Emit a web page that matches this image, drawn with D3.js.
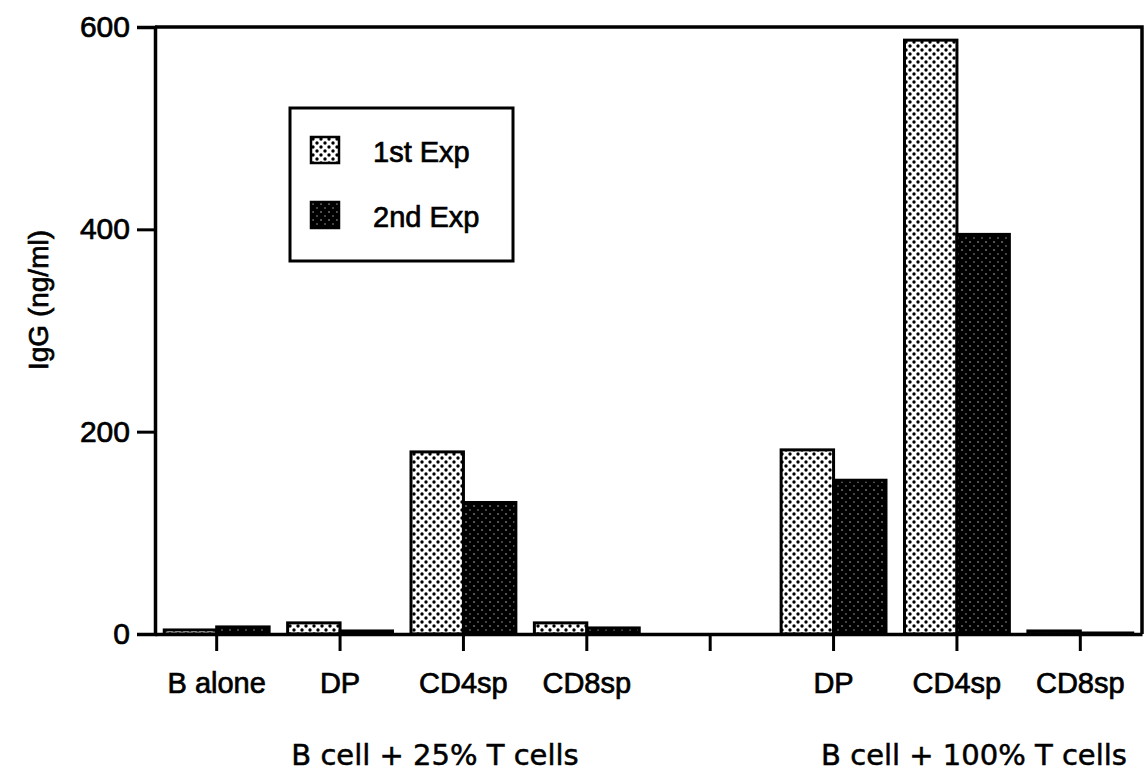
<!DOCTYPE html>
<html>
<head>
<meta charset="utf-8">
<script src="https://cdn.jsdelivr.net/npm/d3@7"></script>
<style>
  html, body { margin: 0; padding: 0; background: #fff; }
  svg { display: block; }
  text { fill: #000; }
  .lbl { font-family: "Liberation Sans", Arial, sans-serif; stroke: #000; stroke-width: 0.7px; }
  .cap { font-family: "DejaVu Sans", sans-serif; stroke: #000; stroke-width: 0.5px; }
</style>
</head>
<body>
<svg id="chart" width="1148" height="776"></svg>
<script>
// IgG production by B cells co-cultured with thymocyte subsets
const slots = [0, 1, 2, 3, 4, 5, 6, 7];
const categoryLabels = ["B alone", "DP", "CD4sp", "CD8sp", "", "DP", "CD4sp", "CD8sp"];
const exp1 = [4, 11, 180, 11, null, 182, 587, 3];
const exp2 = [7, 3, 130, 6, null, 152, 395, 1];
const seriesNames = ["1st Exp", "2nd Exp"];
const yTicks = [0, 200, 400, 600];
const groupLabels = ["B cell + 25% T cells", "B cell + 100% T cells"];

const svg = d3.select("#chart");
const plotLeft = 155, plotRight = 1142, plotTop = 27, plotBottom = 634;

const x = d3.scaleBand().domain(slots).range([plotLeft, plotRight]).paddingInner(0.15).paddingOuter(0.075);
const xSub = d3.scaleBand().domain([0, 1]).range([0, x.bandwidth()]);
const y = d3.scaleLinear().domain([0, 600]).range([plotBottom, plotTop]);

// fill patterns: light stipple and dark stipple
const defs = svg.append("defs");
const p1 = defs.append("pattern").attr("id", "stippleLight")
  .attr("patternUnits", "userSpaceOnUse").attr("width", 8).attr("height", 8);
p1.append("rect").attr("width", 8).attr("height", 8).attr("fill", "#fff");
p1.append("circle").attr("cx", 2).attr("cy", 2).attr("r", 1.7).attr("fill", "#000");
p1.append("circle").attr("cx", 6).attr("cy", 6).attr("r", 1.7).attr("fill", "#000");

const p2 = defs.append("pattern").attr("id", "stippleDark")
  .attr("patternUnits", "userSpaceOnUse").attr("width", 8).attr("height", 8);
p2.append("rect").attr("width", 8).attr("height", 8).attr("fill", "#000");
p2.append("circle").attr("cx", 2).attr("cy", 2).attr("r", 0.8).attr("fill", "#bbb");
p2.append("circle").attr("cx", 6).attr("cy", 6).attr("r", 0.8).attr("fill", "#999");

const fills = ["url(#stippleLight)", "url(#stippleDark)"];
const series = [exp1, exp2];

// bars
series.forEach((vals, s) => {
  svg.append("g").selectAll("rect")
    .data(slots.filter(i => vals[i] !== null))
    .join("rect")
    .attr("x", i => x(i) + xSub(s))
    .attr("y", i => y(vals[i]))
    .attr("width", xSub.bandwidth())
    .attr("height", i => y(0) - y(vals[i]))
    .attr("fill", fills[s])
    .attr("stroke", "#000")
    .attr("stroke-width", 3);
});

// frame: top and right edges
svg.append("path")
  .attr("d", `M${plotLeft},${plotTop}H${plotRight}V${plotBottom}`)
  .attr("fill", "none").attr("stroke", "#000").attr("stroke-width", 3.5);

// y axis
const yAxis = svg.append("g").attr("transform", `translate(${plotLeft},0)`)
  .call(d3.axisLeft(y).tickValues(yTicks).tickSize(18).tickPadding(7).tickFormat(d3.format("d")));
yAxis.select(".domain").attr("stroke-width", 3.5);
yAxis.selectAll(".tick line").attr("stroke-width", 3);
yAxis.selectAll(".tick text")
  .attr("class", "lbl")
  .attr("font-family", null)
  .attr("font-size", 30).attr("fill", "#000");

// x axis
const xAxis = svg.append("g").attr("transform", `translate(0,${plotBottom})`)
  .call(d3.axisBottom(x).tickSize(17).tickPadding(21).tickSizeOuter(0).tickFormat(i => categoryLabels[i]));
xAxis.select(".domain").attr("stroke-width", 3.5);
xAxis.selectAll(".tick line").attr("stroke-width", 3);
xAxis.selectAll(".tick text")
  .attr("class", "lbl")
  .attr("font-family", null)
  .attr("font-size", 29).attr("fill", "#000");
svg.selectAll("g").attr("font-family", null);

// axis title
svg.append("text")
  .attr("class", "lbl")
  .attr("transform", "translate(48,300) rotate(-90)")
  .attr("text-anchor", "middle")
  .attr("font-size", 28)
  .text("IgG (ng/ml)");

// group captions, centred under each group of categories
const groupCentres = [435, 974];
groupLabels.forEach((g, k) => {
  svg.append("text")
    .attr("class", "cap")
    .attr("x", groupCentres[k]).attr("y", 765)
    .attr("text-anchor", "middle")
    .attr("font-size", 29)
    .text(g);
});

// legend
const legend = svg.append("g").attr("transform", "translate(290,108)");
legend.append("rect").attr("width", 223).attr("height", 153)
  .attr("fill", "#fff").attr("stroke", "#000").attr("stroke-width", 3);
seriesNames.forEach((name, s) => {
  const row = legend.append("g").attr("transform", `translate(21,${29 + s * 65})`);
  row.append("rect").attr("width", 28).attr("height", 26)
    .attr("fill", fills[s]).attr("stroke", "#000").attr("stroke-width", 2.5);
  row.append("text").attr("class", "lbl").attr("x", 62).attr("y", 25)
    .attr("font-size", 29)
    .text(name);
});
</script>
</body>
</html>
